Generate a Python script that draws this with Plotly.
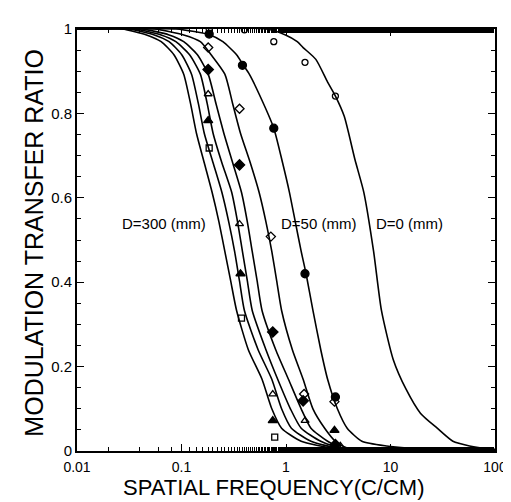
import plotly.graph_objects as go

# ---- curve data (spatial frequency c/cm, modulation transfer ratio) ----
c300_f = [0.01, 0.027, 0.0463, 0.0639, 0.0846, 0.105, 0.1221, 0.139, 0.1651, 0.1962, 0.2282, 0.2598, 0.2956, 0.3365, 0.4359, 0.5896, 0.7313, 0.9074, 1.3971, 2.7861, 5.32, 100]
c300_v = [1.0, 1.0, 0.986, 0.970, 0.939, 0.893, 0.823, 0.753, 0.683, 0.613, 0.543, 0.473, 0.403, 0.333, 0.240, 0.170, 0.100, 0.054, 0.023, 0.007, 0.002, 0.0]

c250_f = [0.01, 0.0314, 0.055, 0.076, 0.1005, 0.1247, 0.1451, 0.1651, 0.2005, 0.2434, 0.2831, 0.3223, 0.3589, 0.3998, 0.5408, 0.7313, 0.9074, 1.1259, 1.7337, 3.1031, 6.0, 100]
c250_v = [1.0, 1.0, 0.986, 0.970, 0.939, 0.893, 0.823, 0.753, 0.683, 0.613, 0.543, 0.473, 0.403, 0.333, 0.240, 0.170, 0.100, 0.054, 0.023, 0.007, 0.002, 0.0]

c200_f = [0.01, 0.0357, 0.0639, 0.0883, 0.1195, 0.1515, 0.1762, 0.2005, 0.2434, 0.3021, 0.3439, 0.3829, 0.4266, 0.4751, 0.6427, 0.8326, 1.1019, 1.3971, 2.1508, 3.3113, 7.0, 100]
c200_v = [1.0, 1.0, 0.986, 0.970, 0.939, 0.893, 0.823, 0.753, 0.683, 0.613, 0.543, 0.473, 0.403, 0.333, 0.240, 0.170, 0.100, 0.054, 0.023, 0.007, 0.002, 0.0]

c150_f = [0.01, 0.0415, 0.076, 0.105, 0.142, 0.18, 0.2139, 0.2542, 0.3087, 0.3748, 0.4266, 0.4751, 0.5294, 0.5896, 0.7973, 1.0554, 1.3971, 1.7337, 2.5013, 3.4568, 7.5, 100]
c150_v = [1.0, 1.0, 0.986, 0.970, 0.939, 0.893, 0.823, 0.753, 0.683, 0.613, 0.543, 0.473, 0.403, 0.333, 0.240, 0.170, 0.100, 0.054, 0.023, 0.007, 0.002, 0.0]

c100_f = [0.01, 0.055, 0.105, 0.1515, 0.192, 0.2598, 0.3087, 0.3667, 0.4551, 0.5527, 0.6427, 0.7313, 0.8147, 0.9074, 1.1505, 1.4587, 1.81, 2.3446, 2.972, 3.8504, 8.0, 100]
c100_v = [1.0, 1.0, 0.986, 0.970, 0.939, 0.893, 0.823, 0.753, 0.683, 0.613, 0.543, 0.473, 0.403, 0.333, 0.240, 0.170, 0.100, 0.054, 0.023, 0.007, 0.002, 0.0]

c50_f = [0.01, 0.0883, 0.1879, 0.2488, 0.3365, 0.3913, 0.4454, 0.5527, 0.7636, 0.9273, 1.0784, 1.2274, 1.3971, 1.556, 1.81, 2.1508, 2.5013, 3.1031, 3.8504, 5.3211, 9.1253, 19.4, 100]
c50_v = [1.0, 1.0, 0.986, 0.970, 0.939, 0.914, 0.893, 0.846, 0.765, 0.683, 0.613, 0.543, 0.473, 0.420, 0.333, 0.240, 0.170, 0.100, 0.054, 0.023, 0.012, 0.005, 0.0]

c0_f = [0.01, 0.6427, 0.9893, 1.2815, 1.4587, 1.931, 2.5013, 2.972, 3.6089, 4.5751, 5.5556, 6.891, 8.19, 10.612, 14.045, 19.416, 28.01, 39.56, 57.07, 87.86, 100]
c0_v = [1.0, 1.0, 0.986, 0.970, 0.956, 0.928, 0.874, 0.841, 0.793, 0.690, 0.613, 0.473, 0.333, 0.217, 0.147, 0.089, 0.054, 0.023, 0.012, 0.005, 0.004]

# ---- measured points ----
pt_oc_f = [0.184, 0.400, 0.764, 1.52, 2.97]
pt_oc_v = [1.0, 0.998, 0.970, 0.921, 0.841]
pt_fc_f = [0.184, 0.383, 0.764, 1.52, 2.97]
pt_fc_v = [0.988, 0.914, 0.765, 0.420, 0.128]
pt_od_f = [0.180, 0.359, 0.716, 1.49, 2.91]
pt_od_v = [0.956, 0.811, 0.508, 0.135, 0.117]
pt_fd_f = [0.180, 0.359, 0.747, 1.459, 2.97]
pt_fd_v = [0.904, 0.678, 0.282, 0.119, 0.015]
pt_ot_f = [0.180, 0.359, 0.747, 1.523, 3.31]
pt_ot_v = [0.846, 0.538, 0.135, 0.072, 0.012]
pt_ft_f = [0.180, 0.367, 0.747, 2.91]
pt_ft_v = [0.783, 0.420, 0.072, 0.049]
pt_sq_f = [0.184, 0.375, 0.78, 3.1]
pt_sq_v = [0.718, 0.315, 0.033, 0.010]

x_tickvals = [0.01, 0.1, 1, 10, 100]
x_ticktext = ["0.01", "0.1", "1", "10", "100"]
y_tickvals = [0, 0.2, 0.4, 0.6, 0.8, 1]
y_ticktext = ["0", "0.2", "0.4", "0.6", "0.8", "1"]

FONT = "Liberation Sans, Arial, Helvetica, sans-serif"

fig = go.Figure()
for fx, vy in [(c300_f, c300_v), (c250_f, c250_v), (c200_f, c200_v), (c150_f, c150_v),
               (c100_f, c100_v), (c50_f, c50_v), (c0_f, c0_v)]:
    fig.add_trace(go.Scatter(x=fx, y=vy, mode="lines",
                             line=dict(color="black", width=1.6, shape="spline", smoothing=0.6),
                             showlegend=False, hoverinfo="skip"))

markers = [
    (pt_oc_f, pt_oc_v, "circle-open", 6),
    (pt_fc_f, pt_fc_v, "circle", 8),
    (pt_od_f, pt_od_v, "diamond-open", 7),
    (pt_fd_f, pt_fd_v, "diamond", 8),
    (pt_ot_f, pt_ot_v, "triangle-up-open", 7),
    (pt_ft_f, pt_ft_v, "triangle-up", 8),
    (pt_sq_f, pt_sq_v, "square-open", 6),
]
for fx, vy, sym, sz in markers:
    fig.add_trace(go.Scatter(x=fx, y=vy, mode="markers",
                             marker=dict(symbol=sym, size=sz, color="black",
                                         line=dict(color="black", width=1.3)),
                             showlegend=False))

lab_font = dict(family=FONT, size=15, color="black")
fig.add_annotation(x=-1.166, y=0.538, text="D=300 (mm)", showarrow=False, xref="x", yref="y",
                   xanchor="center", yanchor="middle", font=lab_font)
fig.add_annotation(x=0.3138, y=0.538, text="D=50 (mm)", showarrow=False, xref="x", yref="y",
                   xanchor="center", yanchor="middle", font=lab_font)
fig.add_annotation(x=1.185, y=0.538, text="D=0 (mm)", showarrow=False, xref="x", yref="y",
                   xanchor="center", yanchor="middle", font=lab_font)

fig.add_annotation(x=-0.105, y=0.494, xref="paper", yref="paper", text="MODULATION TRANSFER RATIO",
                   textangle=-90, showarrow=False, xanchor="center", yanchor="middle",
                   font=dict(family=FONT, size=25, color="black"))
fig.add_annotation(x=0.471, y=-0.087, xref="paper", yref="paper", text="SPATIAL FREQUENCY(C/CM)",
                   showarrow=False, xanchor="center", yanchor="middle",
                   font=dict(family=FONT, size=22, color="black"))

fig.update_xaxes(type="log", range=[-2, 2], tickvals=x_tickvals, ticktext=x_ticktext,
                 ticks="inside", ticklen=7, tickwidth=1.2, tickcolor="black",
                 ticklabelstandoff=2,
                 minor=dict(ticks="inside", ticklen=4, tickcolor="black", showgrid=False),
                 showline=True, linewidth=2, linecolor="black", mirror="allticks",
                 showgrid=False, zeroline=False,
                 tickfont=dict(family=FONT, size=14, color="black"))
fig.update_yaxes(range=[0, 1], tickvals=y_tickvals, ticktext=y_ticktext,
                 ticks="inside", ticklen=7, tickwidth=1.2, tickcolor="black",
                 minor=dict(ticks="inside", ticklen=4, dtick=0.05, tickcolor="black", showgrid=False),
                 showline=True, linewidth=2, linecolor="black", mirror="allticks",
                 showgrid=False, zeroline=False,
                 tickfont=dict(family=FONT, size=15, color="black"))

fig.update_layout(width=511, height=502, margin=dict(l=69, r=15, t=14, b=59),
                  paper_bgcolor="white", plot_bgcolor="white", showlegend=False)

fig.write_html("out.html")
